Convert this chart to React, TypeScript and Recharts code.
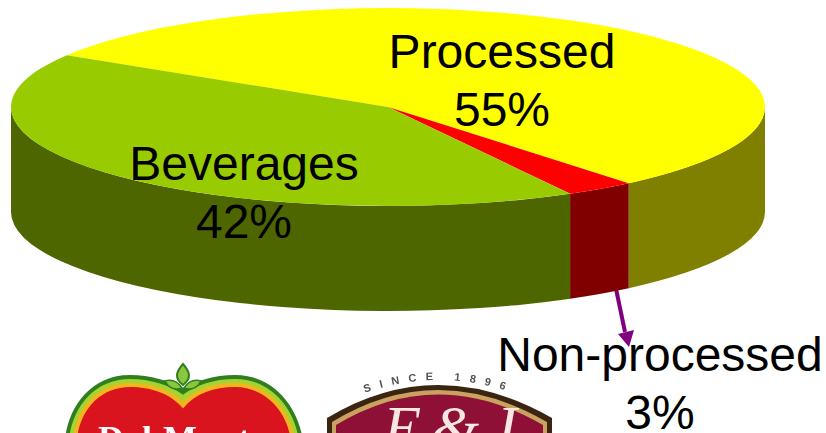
import React from "react";
import { PieChart, Pie } from "recharts";

const categories = ["Processed", "Non-processed", "Beverages"];
const shares = [55.2, 3, 41.8];
const shareLabels = ["55%", "3%", "42%"];
const topColors = ["#FFFF00", "#FF0000", "#99CC00"];
const wallColors = ["#808000", "#800000", "#4D6600"];

const rows = categories.map((name, i) => ({ name, value: shares[i], pct: shareLabels[i], top: topColors[i], wall: wallColors[i] }));

const W = 826, H = 433;
const CX = 388, CY = 107, RX = 377, RY = 99, DEPTH = 105;
const RAD = Math.PI / 180;
const FONT = '"Liberation Sans", Arial, sans-serif';

// label placement by category
const labelAnchors = [
  { x: 502, y: 68 },
  { x: 660, y: 371 },
  { x: 244, y: 180 },
];

const pt = (cx: number, cy: number, rx: number, ry: number, a: number) =>
  [cx + rx * Math.cos(a * RAD), cy - ry * Math.sin(a * RAD)];

function Sector3D(props: any) {
  const { cx, cy, outerRadius, startAngle, endAngle, payload, fill } = props;
  const rx = outerRadius;
  const ry = (outerRadius * RY) / RX;
  const [sx, sy] = pt(cx, cy, rx, ry, startAngle);
  const [ex, ey] = pt(cx, cy, rx, ry, endAngle);
  const large = Math.abs(startAngle - endAngle) > 180 ? 1 : 0;
  const a = Math.min(startAngle, 0);
  const b = Math.max(endAngle, -180);
  let wall: React.ReactNode = null;
  if (a > b) {
    const [ax, ay] = pt(cx, cy, rx, ry, a);
    const [bx, by] = pt(cx, cy, rx, ry, b);
    wall = (
      <path
        d={`M${ax},${ay}A${rx},${ry} 0 0 1 ${bx},${by}L${bx},${by + DEPTH}A${rx},${ry} 0 0 0 ${ax},${ay + DEPTH}Z`}
        fill={payload?.wall ?? props.wall}
      />
    );
  }
  return (
    <g>
      {wall}
      <path
        d={`M${cx},${cy}L${sx},${sy}A${rx},${ry} 0 ${large} 1 ${ex},${ey}Z`}
        fill={payload?.top ?? props.top ?? fill}
      />
    </g>
  );
}

function SliceLabel(props: any) {
  const { index, name, pct, payload } = props;
  const pos = labelAnchors[index];
  return (
    <text x={pos.x} y={pos.y} textAnchor="middle" fontFamily={FONT} fontSize={48} fill="#000">
      <tspan x={pos.x}>{name ?? payload?.name}</tspan>
      <tspan x={pos.x} dy={58}>{pct ?? payload?.pct}</tspan>
    </text>
  );
}

function heart(i: number) {
  const c = 183;
  return `M${65 + i},440 C${68 + i},408 ${90 + i},${375 + i} ${130},${375 + i} C${150},${375 + i} ${170},${381 + i} ${c},${388 + i * 1.7} C${196},${381 + i} ${214},${375 + i} ${235},${375 + i} C${275 - i},${375 + i} ${298 - i},408 ${303 - i},440 Z`;
}

function Logos() {
  return (
    <svg width={W} height={H} style={{ position: "absolute", left: 0, top: 0 }}>
      <defs>
        <path id="sinceArc" d="M362,394 Q438,366 516,394" fill="none" />
      </defs>
      <g style={{ filter: "blur(0.7px)" }}>
        <path d={heart(0)} fill="#2F7F1F" />
        <path d={heart(4)} fill="#A6D232" />
        <path d={heart(8)} fill="#F2B51E" />
        <path d={heart(12)} fill="#D9141E" />
        <path d="M183,364 C176,372 174,378 183,385 C192,378 190,372 183,364 Z" fill="#8CC63F" stroke="#2F7F1F" strokeWidth={2} />
        <path d="M165,381 C172,379 178,382 182,388 C174,391 168,387 165,381 Z" fill="#8CC63F" stroke="#2F7F1F" strokeWidth={1.5} />
        <path d="M201,381 C194,379 188,382 184,388 C192,391 198,387 201,381 Z" fill="#8CC63F" stroke="#2F7F1F" strokeWidth={1.5} />
        <text x={183} y={451} textAnchor="middle" fontFamily='"Liberation Serif", serif' fontWeight="bold" fontSize={36} fill="#fff" letterSpacing={1}>Del Monte</text>

        <path d="M327,418 Q437,352 552,418 L552,433 L327,433 Z" fill="#3A2412" />
        <path d="M332,422 Q437,358 547,422 L547,433 L332,433 Z" fill="#C8A25E" />
        <path d="M336,425 Q437,364 543,425 L543,433 L336,433 Z" fill="#8E1036" />
        <text x={455} y={448} textAnchor="middle" fontFamily='"Liberation Serif", serif' fontStyle="italic" fontSize={62} fill="#F6E8E0" letterSpacing={10}>E&amp;J</text>
        <text fontFamily={FONT} fontWeight="bold" fontSize={11} fill="#555" letterSpacing={9}>
          <textPath href="#sinceArc" startOffset="50%" textAnchor="middle">SINCE 1896</textPath>
        </text>
      </g>
    </svg>
  );
}

export default function App() {
  return (
    <div style={{ position: "fixed", left: 0, top: 0, width: W, height: H, overflow: "hidden", background: "#fff" }}>
      <Logos />
      <div style={{ position: "absolute", left: 0, top: 0 }}>
        <PieChart width={W} height={H} margin={{ top: 0, right: 0, bottom: 0, left: 0 }}>
          <Pie
            data={rows}
            dataKey="value"
            nameKey="name"
            cx={CX}
            cy={CY}
            innerRadius={0}
            outerRadius={RX}
            startAngle={148.4}
            endAngle={-211.6}
            stroke="none"
            isAnimationActive={false}
            shape={Sector3D}
            label={SliceLabel}
            labelLine={false}
          />
          <line x1={615} y1={284} x2={625} y2={332} stroke="#800080" strokeWidth={4} />
          <path d="M618,334 L634,330 L629,347 Z" fill="#800080" />
        </PieChart>
      </div>
    </div>
  );
}
